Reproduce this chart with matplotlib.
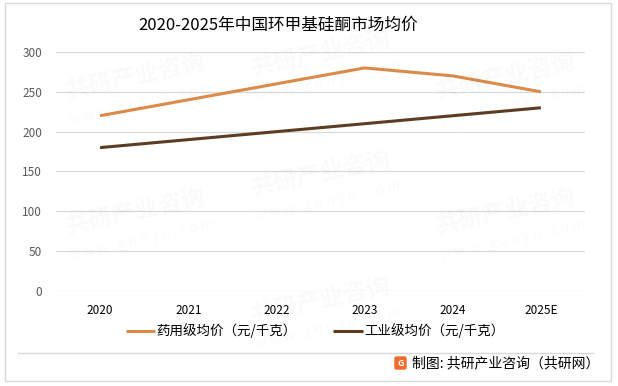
import matplotlib.pyplot as plt
from matplotlib.patches import Rectangle, FancyBboxPatch
from matplotlib.lines import Line2D

plt.rcParams['font.family'] = ['Noto Sans CJK SC', 'DejaVu Sans']

years = ["2020", "2021", "2022", "2023", "2024", "2025E"]
pharma_price = [220, 240, 260, 280, 270, 250]
industrial_price = [180, 190, 200, 210, 220, 230]
series_names = ["药用级均价（元/千克）", "工业级均价（元/千克）"]
colors = ["#DC8A48", "#5C3D24"]

fig = plt.figure(figsize=(6.18, 3.86), dpi=100)
ax = fig.add_axes([0.0906, 0.2461, 0.8560, 0.6192])

# faint watermarks in the background
for wx, wy in [(0.22, 0.80), (0.52, 0.86), (0.82, 0.80), (0.22, 0.45),
               (0.52, 0.55), (0.82, 0.45), (0.52, 0.22)]:
    fig.text(wx, wy, "共研产业咨询", color="#000000", alpha=0.025, fontsize=17,
             fontweight="bold", rotation=12, ha="center", va="center", zorder=0)
    fig.text(wx + 0.01, wy - 0.07, "w w w . g o n y n . c o m", color="#000000",
             alpha=0.025, fontsize=10, rotation=12, ha="center", va="center", zorder=0)

x = range(len(years))
for vals, name, c in zip([pharma_price, industrial_price], series_names, colors):
    ax.plot(x, vals, color=c, lw=2.2, label=name, solid_capstyle="butt")

ax.set_xlim(-0.5, len(years) - 0.5)
ax.set_ylim(0, 300)
ax.set_yticks(range(0, 301, 50))
ax.set_xticks(list(x))
ax.set_xticklabels(years)
ax.tick_params(axis="both", length=0, labelsize=8.5, colors="#595959")
ax.tick_params(axis="x", pad=9, labelcolor="#000000")
ax.tick_params(axis="y", pad=10)
ax.grid(axis="y", color="#D9D9D9", lw=0.9)
ax.set_axisbelow(True)
for s in ax.spines.values():
    s.set_visible(False)
ax.patch.set_alpha(0)

fig.text(0.450, 0.934, "2020-2025年中国环甲基硅酮市场均价", ha="center", va="center",
         fontsize=12, fontweight="light", color="#000000")

leg = fig.legend(loc="center", bbox_to_anchor=(0.51, 0.143), ncol=2, frameon=False,
                 fontsize=9.7, handlelength=2.2, handletextpad=0.1, columnspacing=2.7,
                 labelcolor="#000000")

# outer frame and footer
fig.patches.append(Rectangle((5 / 618, 1 - 381 / 386), 606 / 618, 378 / 386,
                             transform=fig.transFigure, fill=False,
                             edgecolor="#D9D9D9", lw=1))
fig.lines.append(Line2D([18 / 618, 593 / 618], [1 - 353 / 386] * 2,
                        transform=fig.transFigure, color="#D9D9D9", lw=1))
fig.patches.append(FancyBboxPatch((395 / 618, 1 - 369 / 386), 11 / 618, 12 / 386,
                                  boxstyle="round,pad=0,rounding_size=0.003",
                                  transform=fig.transFigure, color="#F26B2A"))
fig.text(400.5 / 618, 1 - 363 / 386, "G", color="white", fontsize=6.5, fontweight="bold",
         ha="center", va="center")
fig.text(412 / 618, 1 - 363 / 386, "制图: 共研产业咨询（共研网）", ha="left", va="center",
         fontsize=10, color="#000000")

fig.savefig("out.png", dpi=100)
